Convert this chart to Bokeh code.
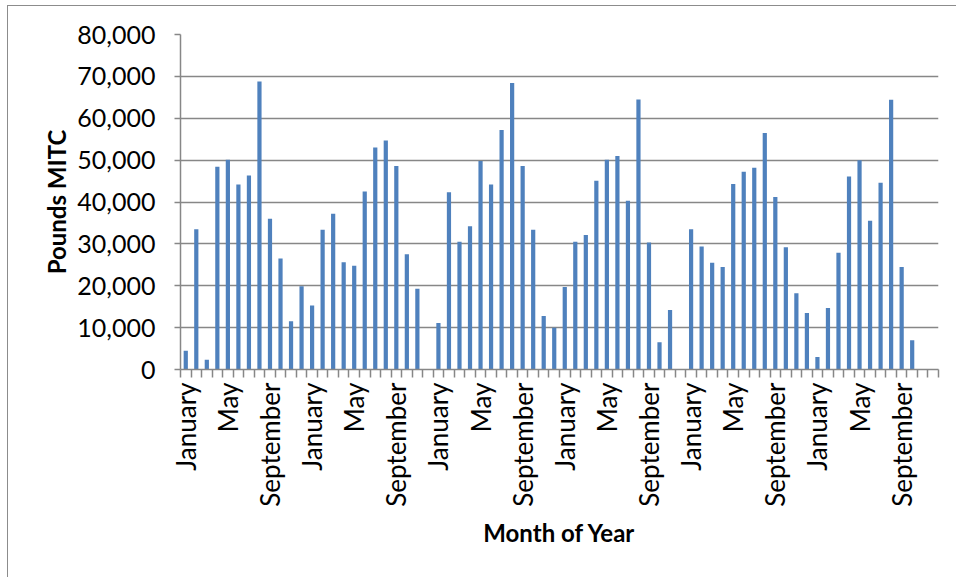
import math
from bokeh.plotting import figure
from bokeh.models import Range1d, FixedTicker, NumeralTickFormatter, ColumnDataSource
from bokeh.embed import file_html
from bokeh.resources import INLINE

months = ["January", "February", "March", "April", "May", "June", "July",
          "August", "September", "October", "November", "December"]

# Pounds MITC per month, six consecutive years
year1 = [4500, 33500, 2300, 48400, 50100, 44200, 46300, 68800, 36000, 26500, 11500, 19900]
year2 = [15300, 33400, 37200, 25600, 24800, 42500, 53000, 54700, 48600, 27500, 19300, 0]
year3 = [11100, 42300, 30500, 34200, 49800, 44200, 57200, 68400, 48600, 33400, 12800, 10000]
year4 = [19700, 30500, 32100, 45100, 50100, 51000, 40300, 64500, 30300, 6500, 14200, 0]
year5 = [33500, 29400, 25500, 24500, 44300, 47200, 48200, 56500, 41200, 29200, 18200, 13500]
year6 = [3000, 14700, 27900, 46100, 50000, 35500, 44600, 64400, 24500, 7000, 0, 0]

years = [year1, year2, year3, year4, year5, year6]
values = [v for yr in years for v in yr]
labels = [m for _ in years for m in months]
n = len(values)
xs = [i + 0.5 for i in range(n)]

src = ColumnDataSource(dict(x=xs, top=values))

FONT = "Lato"
GRAY = "#878787"

p = figure(width=954, height=578, output_backend="svg", toolbar_location=None,
           x_range=Range1d(0, n), y_range=Range1d(0, 80000),
           min_border_left=172, min_border_right=24, min_border_top=28, min_border_bottom=215,
           x_axis_label="Month of Year", y_axis_label="Pounds MITC")
p.styles = {"border": "1.5px solid #8c8c8c", "box-sizing": "border-box",
            "margin-left": "7px", "margin-top": "5px"}
p.outline_line_color = None

p.vbar(x="x", top="top", width=0.4, bottom=0, source=src,
       fill_color="#4F81BD", line_color=None)

# x axis
label_pos = [xs[i] for i in range(0, n, 4)]
p.xaxis.ticker = FixedTicker(ticks=label_pos, minor_ticks=list(range(0, n + 1)))
p.xaxis.major_label_overrides = {xs[i]: labels[i] for i in range(0, n, 4)}
p.xaxis.major_label_orientation = math.pi / 2
p.xaxis.major_tick_out = 0
p.xaxis.major_tick_in = 0
p.xaxis.minor_tick_out = 8
p.xaxis.minor_tick_in = 0
p.xaxis.minor_tick_line_color = GRAY
p.xaxis.minor_tick_line_width = 1.5
p.xaxis.major_label_standoff = 5
p.xaxis.axis_label_standoff = 8

# y axis
p.yaxis.ticker = FixedTicker(ticks=list(range(0, 80001, 10000)))
p.yaxis.formatter = NumeralTickFormatter(format="0,0")
p.yaxis.major_tick_out = 6
p.yaxis.major_tick_in = 0
p.yaxis.minor_tick_line_color = None
p.yaxis.major_label_standoff = 19
p.yaxis.axis_label_standoff = 3

for ax in (p.xaxis, p.yaxis):
    ax.axis_line_color = GRAY
    ax.axis_line_width = 1.5
    ax.major_tick_line_color = GRAY
    ax.major_tick_line_width = 1.5
    ax.major_label_text_font = FONT
    ax.major_label_text_color = "black"
    ax.axis_label_text_font = FONT
    ax.axis_label_text_font_size = "24px"
    ax.axis_label_text_font_style = "bold"
    ax.axis_label_text_color = "black"

p.xaxis.major_label_text_font_size = "26px"
p.yaxis.major_label_text_font_size = "25px"

p.xgrid.grid_line_color = None
p.ygrid.grid_line_color = GRAY
p.ygrid.grid_line_width = 1.5

open("out.html", "w").write(file_html(p, INLINE))
